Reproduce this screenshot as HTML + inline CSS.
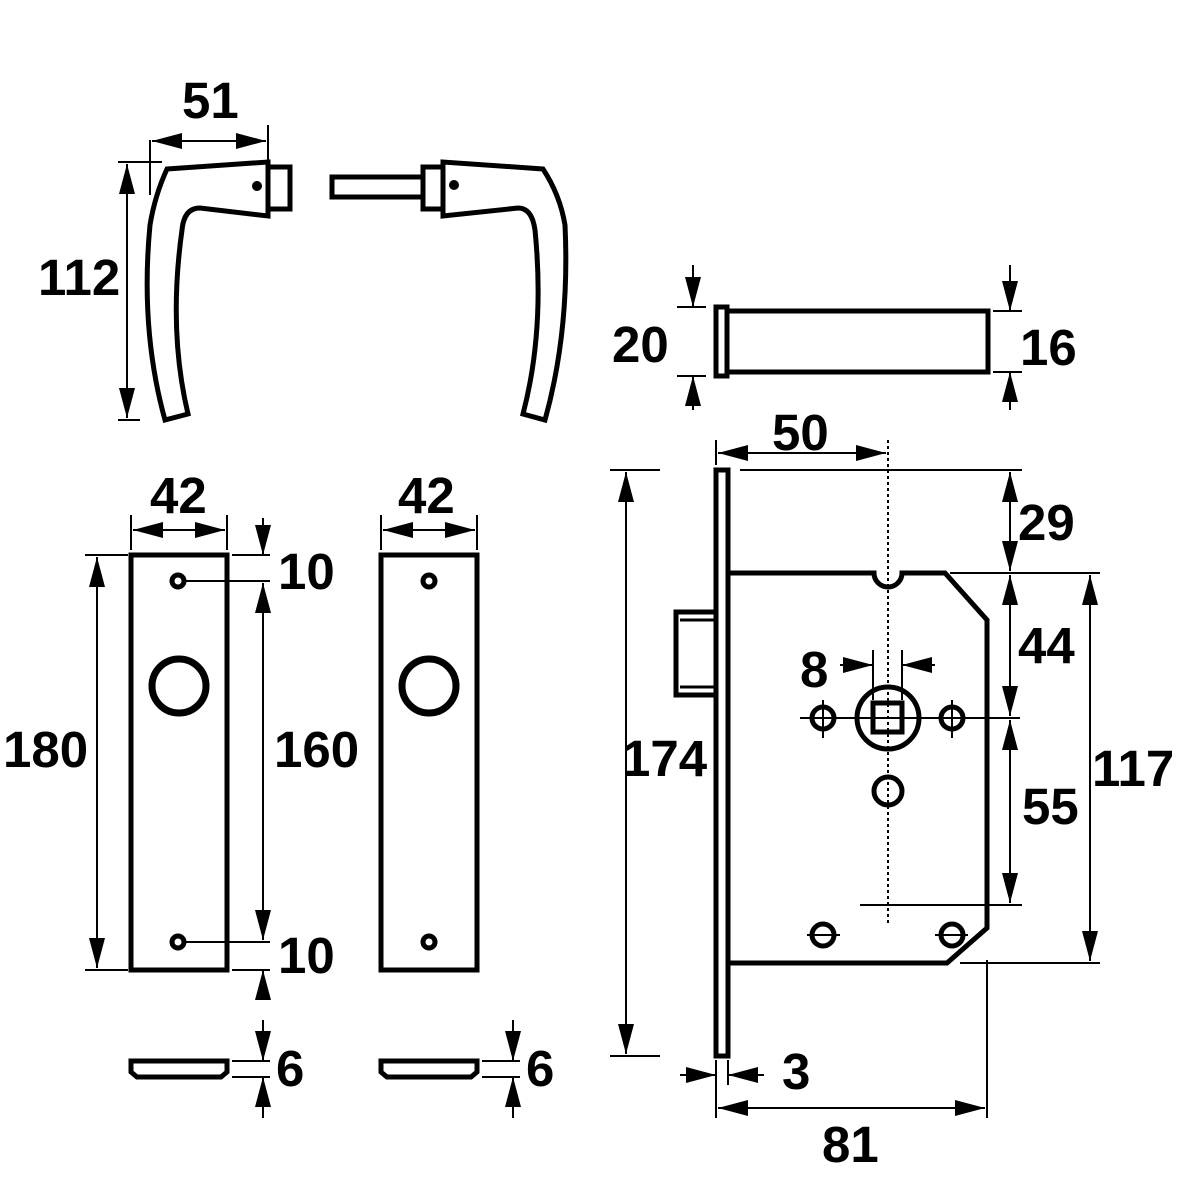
<!DOCTYPE html>
<html><head><meta charset="utf-8"><style>
html,body{margin:0;padding:0;background:#fff}
svg{display:block}
text{font-family:"Liberation Sans",sans-serif;font-weight:bold;font-size:51px;fill:#000}
</style></head><body>
<svg width="1181" height="1181" viewBox="0 0 1181 1181" xmlns="http://www.w3.org/2000/svg">
<defs>
<marker id="a" markerUnits="userSpaceOnUse" markerWidth="32" markerHeight="18" refX="30" refY="9" orient="auto-start-reverse">
<path d="M0,1 L30,9 L0,17 Z" fill="#000"/></marker>
</defs>
<g fill="none" stroke="#000" stroke-width="5">
<!-- left handle -->
<path d="M167,169 L268,162 L268,216 L200,208 Q184,208 182,230 Q168,330 188,414 L165,420 Q140,330 150,225 Q155,195 167,169 Z"/>
<rect x="268" y="167" width="22" height="42"/>
<!-- right handle -->
<path d="M543,169 L443,162 L443,216 L518,208 Q532,208 535,230 Q545,330 523,414 L545,420 Q570,330 565,225 Q560,195 543,169 Z"/>
<rect x="423" y="167" width="20" height="42"/>
<rect x="332" y="177" width="91" height="20"/>
<!-- pin -->
<rect x="716" y="307" width="11" height="69"/>
<rect x="727" y="311" width="261" height="61"/>
<!-- plates -->
<rect x="131" y="555" width="96" height="415"/>
<rect x="381" y="555" width="96" height="415"/>
<circle cx="179" cy="686" r="27" stroke-width="7"/>
<circle cx="429" cy="686" r="27" stroke-width="7"/>
<circle cx="178" cy="581" r="6"/><circle cx="178" cy="942" r="6"/>
<circle cx="429" cy="581" r="6"/><circle cx="429" cy="942" r="6"/>
<path d="M131,1061 H227 V1072 L221,1077 H137 L131,1072 Z"/>
<path d="M381,1061 H477 V1072 L471,1077 H387 L381,1072 Z"/>
<!-- lock -->
<rect x="716" y="470" width="12" height="586"/>
<path d="M730,573 H874 A14,14 0 0 0 902,573 H945 L987,620 V928 L947,963 H730"/>
<rect x="676" y="612" width="40" height="83"/>
<path d="M680,620 H716 M680,687 H716" stroke-width="3"/>
<circle cx="888" cy="718" r="31"/>
<rect x="873" y="703" width="29" height="29"/>
<circle cx="823" cy="718" r="11"/><circle cx="952" cy="718" r="11"/>
<circle cx="888" cy="791" r="14"/>
<circle cx="823" cy="935" r="11"/><circle cx="952" cy="935" r="11"/>
</g>
<g fill="none" stroke="#000" stroke-width="2">
<path d="M888,440 V925" stroke-dasharray="3,3"/>
<path d="M800,718 H1020 M823,700 V738 M952,700 V738 M807,935 H840 M935,935 H968"/>
<!-- handle dims -->
<path d="M150,140 V195 M268,125 V160 M118,162 H162 M118,420 H140"/>
<path d="M152,141 H266" marker-start="url(#a)" marker-end="url(#a)"/>
<path d="M127,164 V418" marker-start="url(#a)" marker-end="url(#a)"/>
<!-- pin dims -->
<path d="M677,307 H706 M677,376 H706 M993,311 H1022 M993,372 H1022"/>
<path d="M693,265 V307" marker-end="url(#a)"/><path d="M693,410 V376" marker-end="url(#a)"/>
<path d="M1010,265 V311" marker-end="url(#a)"/><path d="M1010,410 V372" marker-end="url(#a)"/>
<!-- plate dims -->
<path d="M131,515 V550 M227,515 V550 M381,515 V550 M477,515 V550"/>
<path d="M133,530 H225" marker-start="url(#a)" marker-end="url(#a)"/>
<path d="M383,530 H475" marker-start="url(#a)" marker-end="url(#a)"/>
<path d="M85,555 H128 M85,970 H128 M185,581 H270 M185,942 H270 M232,555 H270 M232,970 H270"/>
<path d="M97,557 V968" marker-start="url(#a)" marker-end="url(#a)"/>
<path d="M263,583 V940" marker-start="url(#a)" marker-end="url(#a)"/>
<path d="M263,518 V555" marker-end="url(#a)"/><path d="M263,1000 V970" marker-end="url(#a)"/>
<path d="M232,1061 H270 M232,1077 H270 M482,1061 H520 M482,1077 H520"/>
<path d="M263,1020 V1061" marker-end="url(#a)"/><path d="M263,1118 V1077" marker-end="url(#a)"/>
<path d="M513,1020 V1061" marker-end="url(#a)"/><path d="M513,1118 V1077" marker-end="url(#a)"/>
<!-- lock dims -->
<path d="M716,440 V465 M610,470 H660 M610,1056 H660 M740,470 H1022 M950,573 H1100 M860,905 H1022 M960,963 H1100"/>
<path d="M718,453 H886" marker-start="url(#a)" marker-end="url(#a)"/>
<path d="M626,472 V1054" marker-start="url(#a)" marker-end="url(#a)"/>
<path d="M1010,472 V571" marker-start="url(#a)" marker-end="url(#a)"/>
<path d="M1010,575 V716" marker-start="url(#a)" marker-end="url(#a)"/>
<path d="M1010,720 V903" marker-start="url(#a)" marker-end="url(#a)"/>
<path d="M1090,575 V961" marker-start="url(#a)" marker-end="url(#a)"/>
<path d="M873,650 V700 M902,650 V700"/>
<path d="M840,665 H873" marker-end="url(#a)"/><path d="M935,665 H902" marker-end="url(#a)"/>
<path d="M716,1060 V1118 M728,1060 V1085 M987,960 V1118"/>
<path d="M680,1075 H716" marker-end="url(#a)"/><path d="M764,1075 H728" marker-end="url(#a)"/>
<path d="M718,1108 H985" marker-start="url(#a)" marker-end="url(#a)"/>
</g>
<g fill="#000"><circle cx="257" cy="186" r="5"/><circle cx="454" cy="185" r="5"/></g>
<text x="182" y="118">51</text>
<text x="38" y="295">112</text>
<text x="612" y="362">20</text>
<text x="1020" y="365">16</text>
<text x="772" y="450">50</text>
<text x="1018" y="540">29</text>
<text x="1018" y="663">44</text>
<text x="800" y="687">8</text>
<text x="1022" y="824">55</text>
<text x="1092" y="786">117</text>
<text x="622" y="776">174</text>
<text x="150" y="513">42</text>
<text x="398" y="513">42</text>
<text x="3" y="767">180</text>
<text x="274" y="767">160</text>
<text x="278" y="589">10</text>
<text x="278" y="973">10</text>
<text x="276" y="1086">6</text>
<text x="526" y="1086">6</text>
<text x="782" y="1089">3</text>
<text x="822" y="1162">81</text>
</svg>
</body></html>
